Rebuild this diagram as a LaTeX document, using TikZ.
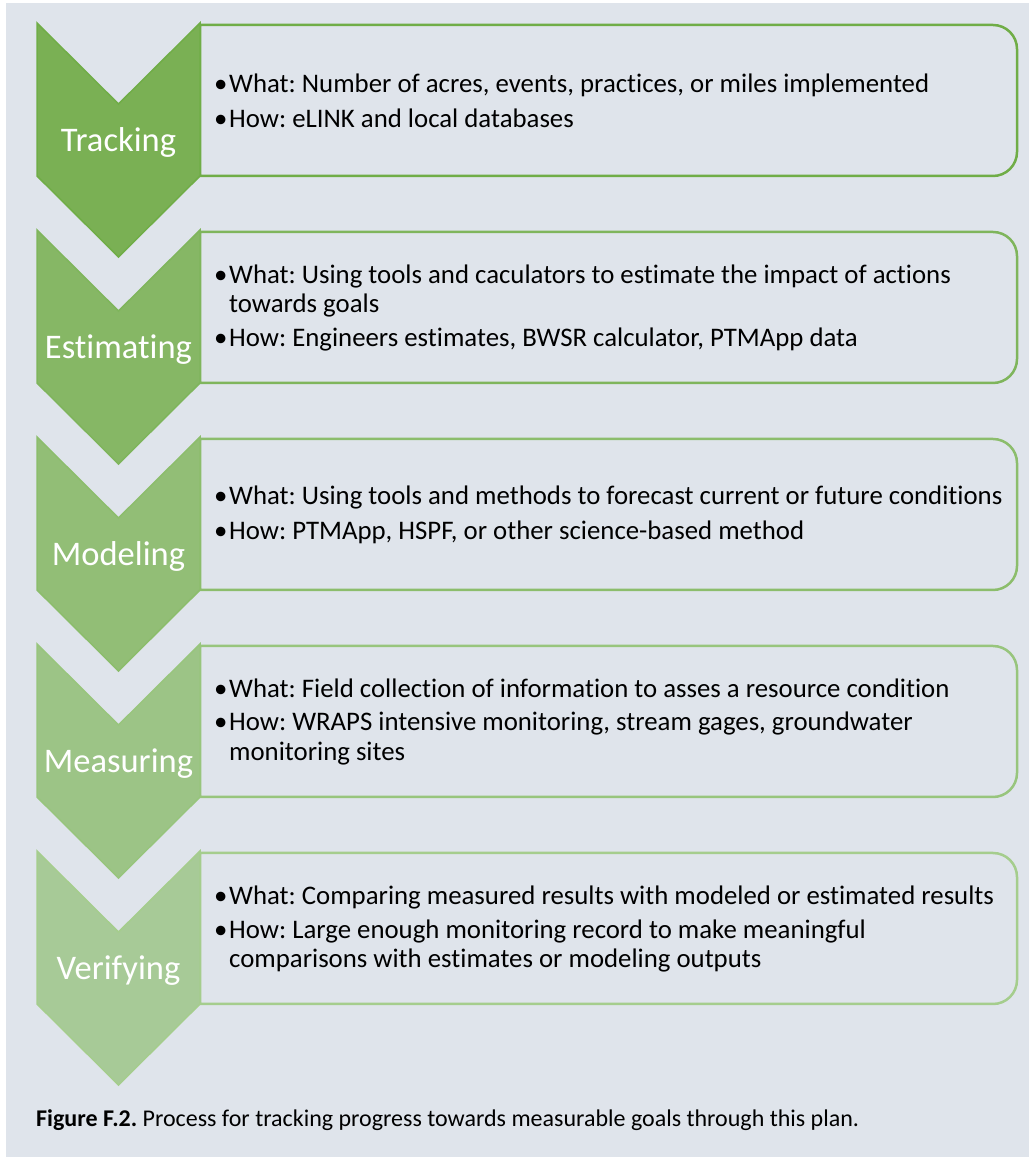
\documentclass[tikz,border=0pt]{standalone}
\usepackage{fontspec}
\setmainfont{Carlito}[Ligatures={NoCommon}]
\usepackage{tikz}
\usetikzlibrary{calc}
\definecolor{panelgrey}{RGB}{223,228,235}
\definecolor{fillA}{RGB}{122,176,84}
\definecolor{fillB}{RGB}{134,183,101}
\definecolor{fillC}{RGB}{146,190,118}
\definecolor{fillD}{RGB}{156,196,134}
\definecolor{fillE}{RGB}{167,202,151}
\definecolor{lineA}{RGB}{112,173,71}
\definecolor{lineB}{RGB}{127,181,92}
\definecolor{lineC}{RGB}{140,189,108}
\definecolor{lineD}{RGB}{152,197,125}
\definecolor{lineE}{RGB}{165,205,141}
\newcommand{\bul}{\makebox[15pt][l]{\textbullet}}
\newcommand{\ind}{\hspace*{15pt}}
\frenchspacing

\begin{document}
\begin{tikzpicture}[x=1pt, y=1pt,
  steplabel/.style={text=white, font=\fontsize{34.5}{40}\selectfont, anchor=base, inner sep=0pt},
  itemtext/.style={anchor=west, align=left, font=\fontsize{26.8}{29.5}\selectfont, inner sep=0pt},
  chevron/.style={line width=1.5pt, line join=miter},
  roundbox/.style={line width=2.5pt}]
  \useasboundingbox (0,0) rectangle (1029,1157);
  \fill[panelgrey] (6,0) rectangle (1029,1154);

  % frames on the right
  \draw[roundbox, draw=lineA] (200,1132) -- (993,1132) arc[start angle=90, end angle=0, radius=24] -- (1017,1005) arc[start angle=0, end angle=-90, radius=24] -- (200,981) -- cycle;
  \draw[roundbox, draw=lineB] (200,925) -- (993,925) arc[start angle=90, end angle=0, radius=24] -- (1017,798) arc[start angle=0, end angle=-90, radius=24] -- (200,774) -- cycle;
  \draw[roundbox, draw=lineC] (200,718) -- (993,718) arc[start angle=90, end angle=0, radius=24] -- (1017,591) arc[start angle=0, end angle=-90, radius=24] -- (200,567) -- cycle;
  \draw[roundbox, draw=lineD] (200,511) -- (993,511) arc[start angle=90, end angle=0, radius=24] -- (1017,384) arc[start angle=0, end angle=-90, radius=24] -- (200,360) -- cycle;
  \draw[roundbox, draw=lineE] (200,304) -- (993,304) arc[start angle=90, end angle=0, radius=24] -- (1017,177) arc[start angle=0, end angle=-90, radius=24] -- (200,153) -- cycle;

  % chevrons
  \filldraw[chevron, fill=fillA, draw=lineA] (37,1134) -- (118.5,1053) -- (200,1134) -- (200,981) -- (118.5,900) -- (37,981) -- cycle;
  \filldraw[chevron, fill=fillB, draw=lineB] (37,927) -- (118.5,846) -- (200,927) -- (200,774) -- (118.5,693) -- (37,774) -- cycle;
  \filldraw[chevron, fill=fillC, draw=lineC] (37,720) -- (118.5,639) -- (200,720) -- (200,567) -- (118.5,486) -- (37,567) -- cycle;
  \filldraw[chevron, fill=fillD, draw=lineD] (37,513) -- (118.5,432) -- (200,513) -- (200,360) -- (118.5,279) -- (37,360) -- cycle;
  \filldraw[chevron, fill=fillE, draw=lineE] (37,306) -- (118.5,225) -- (200,306) -- (200,153) -- (118.5,72) -- (37,153) -- cycle;

  \node[steplabel] (tracking) at (118.5,1005) {Tracking};
  \node[steplabel] (estimating) at (118.5,798) {Estimating};
  \node[steplabel] (modeling) at (118.5,591) {Modeling};
  \node[steplabel] (measuring) at (118.5,384) {Measuring};
  \node[steplabel] (verifying) at (118.5,177) {Verifying};

  \node[itemtext] (trackinfo) at (214,1056) {\bul What: Number of acres, events, practices, or miles implemented\\[5pt]\bul How: eLINK and local databases};
  \node[itemtext] (estinfo) at (214,849) {\bul What: Using tools and caculators to estimate the impact of actions\\\ind towards goals\\[4pt]\bul How: Engineers estimates, BWSR calculator, PTMApp data};
  \node[itemtext] (modelinfo) at (214,642) {\bul What: Using tools and methods to forecast current or future conditions\\[5pt]\bul How: PTMApp, HSPF, or other science-based method};
  \node[itemtext] (measureinfo) at (214,435) {\bul What: Field collection of information to asses a resource condition\\[4pt]\bul How: WRAPS intensive monitoring, stream gages, groundwater\\\ind monitoring sites};
  \node[itemtext] (verifyinfo) at (214,228) {\bul What: Comparing measured results with modeled or estimated results\\[4pt]\bul How: Large enough monitoring record to make meaningful\\\ind comparisons with estimates or modeling outputs};

  \node[anchor=base west, inner sep=0pt, font=\fontsize{24}{28}\selectfont] (caption) at (36,30) {\textbf{Figure F.2.} Process for tracking progress towards measurable goals through this plan.};
\end{tikzpicture}
\end{document}
